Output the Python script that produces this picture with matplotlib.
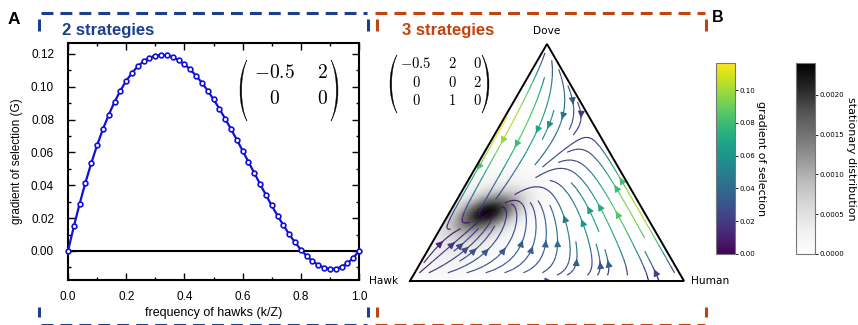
import matplotlib.pyplot as plt
import numpy as np
import matplotlib.tri as mtri
from matplotlib.path import Path
from matplotlib.patches import PathPatch
from matplotlib.colors import Normalize

plt.rcParams['mathtext.fontset'] = 'cm'

# ---- panel A : two strategies (Hawk / Dove), Z = 50
freq_hawks = np.linspace(0, 1, 51)
gradient_2 = [0.0, 0.0149, 0.0288, 0.0417, 0.0535, 0.0644, 0.0742, 0.0830, 0.0908, 0.0977,
              0.1036, 0.1085, 0.1125, 0.1155, 0.1177, 0.1190, 0.1195, 0.1192, 0.1181, 0.1163,
              0.1138, 0.1106, 0.1068, 0.1025, 0.0977, 0.0924, 0.0867, 0.0806, 0.0743, 0.0678,
              0.0611, 0.0543, 0.0475, 0.0408, 0.0341, 0.0277, 0.0215, 0.0157, 0.0102, 0.0053,
              0.0008, -0.0030, -0.0062, -0.0086, -0.0102, -0.0110, -0.0108, -0.0097, -0.0075,
              -0.0043, 0.0]
payoff_2 = [["-0.5", "2"], ["0", "0"]]

# ---- panel B : three strategies
strategies = ["Hawk", "Dove", "Human"]
payoff_3 = np.array([[-0.5, 2, 0],
                     [0, 0, 2],
                     [0, 1, 0]])
payoff_3_txt = [["-0.5", "2", "0"], ["0", "0", "2"], ["0", "1", "0"]]
beta = 1.0
grad_ticks = [0.0, 0.02, 0.04, 0.06, 0.08, 0.10]
stat_ticks = [0.0, 0.0005, 0.0010, 0.0015, 0.0020]
stat_max = 0.0024
# stationary distribution blob (barycentric Hawk, Dove, Human)
stat_center = [0.57, 0.29, 0.14]
stat_core = (0.085, 0.04, 20)     # sigma along, sigma across, angle (deg)
stat_halo = (0.15, 0.075, 40, 0.3, -0.05, -0.04)  # + weight, offset x, offset y

BLUE = '#1c3f8c'
ORANGE = '#c1440e'
LINE = '#1010d8'

W, H = 858, 325
fig = plt.figure(figsize=(W / 100, H / 100), dpi=100)


def px_axes(x0, y0, x1, y1):
    return fig.add_axes([x0 / W, 1 - y1 / H, (x1 - x0) / W, (y1 - y0) / H])


# ================= panel A
axA = px_axes(68, 43, 359, 280)
axA.plot(freq_hawks, gradient_2, color=LINE, lw=1.6, marker='o', ms=3.4,
         mfc='white', mec=LINE, mew=1.2, zorder=3, clip_on=False)
axA.axhline(0, color='black', lw=1.5, zorder=2)
axA.set_xlim(0, 1)
axA.set_ylim(-0.0177, 0.1267)
axA.set_xticks(np.arange(0, 1.01, 0.2))
axA.set_xticks(np.arange(0, 1.01, 0.1), minor=True)
axA.set_yticks(np.arange(0, 0.121, 0.02))
axA.set_yticks(np.arange(-0.01, 0.121, 0.01), minor=True)
axA.set_xticklabels([f"{v:.1f}" for v in np.arange(0, 1.01, 0.2)])
axA.set_yticklabels([f"{v:.2f}" for v in np.arange(0, 0.121, 0.02)])
axA.tick_params(which='both', direction='in', top=True, right=True, width=1.0)
axA.tick_params(which='major', length=5)
axA.tick_params(which='minor', length=2.5)
axA.tick_params(axis='x', pad=8)
axA.tick_params(axis='y', pad=10)
for lab in axA.get_xticklabels() + axA.get_yticklabels():
    lab.set_family('Liberation Sans')
    lab.set_fontsize(8.5)
for sp in axA.spines.values():
    sp.set_linewidth(1.5)
axA.set_xlabel('frequency of hawks (k/Z)', family='Liberation Sans', fontsize=9, labelpad=3)
axA.set_ylabel('gradient of selection (G)', family='Liberation Sans', fontsize=8.5, labelpad=6)

# ================= panel B (simplex)
s3 = np.sqrt(3) / 2
axB = px_axes(410, 44, 684, 281)
axB.set_xlim(0, 1)
axB.set_ylim(0, s3)
axB.axis('off')


def to_bary(X, Y):
    xd = Y / s3
    xhu = X - 0.5 * xd
    xh = 1 - xd - xhu
    return xh, xd, xhu


# stationary distribution
n = 80
pts = [(i / n, j / n) for i in range(n + 1) for j in range(n + 1 - i)]
xhu_p = np.array([p[0] for p in pts])
xd_p = np.array([p[1] for p in pts])
px = xhu_p + 0.5 * xd_p
py = s3 * xd_p
cx = stat_center[2] + 0.5 * stat_center[1]
cy = s3 * stat_center[1]


def blob(sa, sb, ang, ox=0.0, oy=0.0):
    a = np.deg2rad(ang)
    dx, dy = px - cx - ox, py - cy - oy
    u = dx * np.cos(a) + dy * np.sin(a)
    v = -dx * np.sin(a) + dy * np.cos(a)
    return np.exp(-0.5 * ((u / sa) ** 2 + (v / sb) ** 2))


rho = blob(*stat_core) + stat_halo[3] * blob(stat_halo[0], stat_halo[1], stat_halo[2],
                                             stat_halo[4], stat_halo[5])
rho = stat_max * 0.97 * rho / rho.max()
tri = mtri.Triangulation(px, py)
stat_img = axB.tripcolor(tri, rho, shading='gouraud', cmap='Greys', vmin=0, vmax=stat_max,
                         zorder=1)

# gradient of selection field
gx, gy = np.meshgrid(np.linspace(0, 1, 160), np.linspace(0, s3, 140))
xh, xd, xhu = to_bary(gx, gy)
inside = (xh >= -1e-9) & (xd >= -1e-9) & (xhu >= -1e-9)
X = np.stack([xh, xd, xhu])
fit = np.einsum('ij,jkl->ikl', payoff_3, X)
dot = np.zeros_like(X)
for i in range(3):
    for j in range(3):
        dot[i] += X[i] * X[j] * np.tanh(beta / 2 * (fit[i] - fit[j]))
u = dot[2] + 0.5 * dot[1]
v = s3 * dot[1]
speed = np.sqrt(u ** 2 + v ** 2)
vmax = speed[inside].max()
mask = ~inside
u = np.ma.array(u, mask=mask)
v = np.ma.array(v, mask=mask)
spd = np.ma.array(speed, mask=mask)
strm = axB.streamplot(gx, gy, u, v, color=spd, cmap='viridis',
                      norm=Normalize(0, vmax), density=1.0, linewidth=0.85,
                      arrowsize=1.0, zorder=2)

axB.plot([0, 1, 0.5, 0], [0, 0, s3, 0], color='black', lw=1.4, zorder=3,
         clip_on=False, solid_joinstyle='miter')
axB.text(0.5, s3 + 0.03, strategies[1], ha='center', va='bottom', fontsize=7.6)
axB.text(-0.045, 0, strategies[0], ha='right', va='center', fontsize=7.6)
axB.text(1.025, 0, strategies[2], ha='left', va='center', fontsize=7.6)

# colorbars
cax1 = px_axes(716, 63, 735, 254)
cb1 = fig.colorbar(strm.lines, cax=cax1, ticks=grad_ticks)
cb1.ax.set_yticklabels([f"{t:.2f}" for t in grad_ticks])
cax2 = px_axes(796, 63, 815, 254)
cb2 = fig.colorbar(stat_img, cax=cax2, ticks=stat_ticks)
cb2.ax.set_yticklabels([f"{t:.4f}" for t in stat_ticks])
for cb in (cb1, cb2):
    cb.outline.set_edgecolor('#777777')
    cb.outline.set_linewidth(0.8)
    cb.ax.tick_params(labelsize=5, length=2, width=0.6, pad=1.5)

# ================= overlay (decorations in pixel coordinates)
ov = fig.add_axes([0, 0, 1, 1])
ov.set_xlim(0, W)
ov.set_ylim(H, 0)
ov.axis('off')

ov.text(761, 158.5, 'gradient of selection', rotation=270, ha='center', va='center', fontsize=8)
ov.text(851, 158.5, 'stationary distribution', rotation=270, ha='center', va='center', fontsize=8)

ov.text(14, 19, 'A', fontsize=12.5, weight='bold', family='Liberation Sans', ha='center', va='center')
ov.text(718, 18, 'B', fontsize=11.5, weight='bold', family='Liberation Sans', ha='center', va='center')
ov.text(62, 30, '2 strategies', fontsize=12, weight='bold', family='Liberation Sans',
        color=BLUE, ha='left', va='center')
ov.text(402, 30, '3 strategies', fontsize=12, weight='bold', family='Liberation Sans',
        color=ORANGE, ha='left', va='center')

dash = (0, (3.9, 2.3))
for x0, x1, xl, xr, c in [(41, 367, 39, 368, BLUE), (375, 705, 377, 706, ORANGE)]:
    ov.plot([x0, x1], [13, 13], color=c, lw=2.2, linestyle=dash)
    ov.plot([x0, x1], [325, 325], color=c, lw=2.2, linestyle=dash)
    for xx in (xl, xr):
        ov.plot([xx, xx], [19, 31], color=c, lw=2.2, solid_capstyle='butt')
        ov.plot([xx, xx], [307, 317], color=c, lw=2.2, solid_capstyle='butt')


def paren(x_tip, y_top, y_bot, bulge, thick, side):
    s = -1 if side == 'left' else 1
    h = y_bot - y_top
    k = 4 / 3
    verts = [(x_tip, y_top),
             (x_tip + s * k * bulge, y_top + 0.25 * h), (x_tip + s * k * bulge, y_bot - 0.25 * h),
             (x_tip, y_bot),
             (x_tip + s * k * (bulge - thick), y_bot - 0.25 * h),
             (x_tip + s * k * (bulge - thick), y_top + 0.25 * h),
             (x_tip, y_top), (x_tip, y_top)]
    codes = [Path.MOVETO, Path.CURVE4, Path.CURVE4, Path.CURVE4,
             Path.CURVE4, Path.CURVE4, Path.CURVE4, Path.CLOSEPOLY]
    ov.add_patch(PathPatch(Path(verts, codes), facecolor='black', edgecolor='black', lw=0.3))


def matrix(entries, cols, base, size, left, right, top, bot):
    for r, row in enumerate(entries):
        for c, val in enumerate(row):
            ov.text(cols[c], base[r], '$' + val + '$', fontsize=size, ha='center', va='baseline')
    paren(left, top, bot, 7, 1.6, 'left')
    paren(right, top, bot, 7, 1.6, 'right')


matrix(payoff_2, [274, 322], [78, 104], 14, 247, 331, 60, 121)
matrix(payoff_3_txt, [416, 452, 477], [68, 87, 105], 10.5, 397, 482, 55, 113)

fig.savefig('out.png', dpi=100)
